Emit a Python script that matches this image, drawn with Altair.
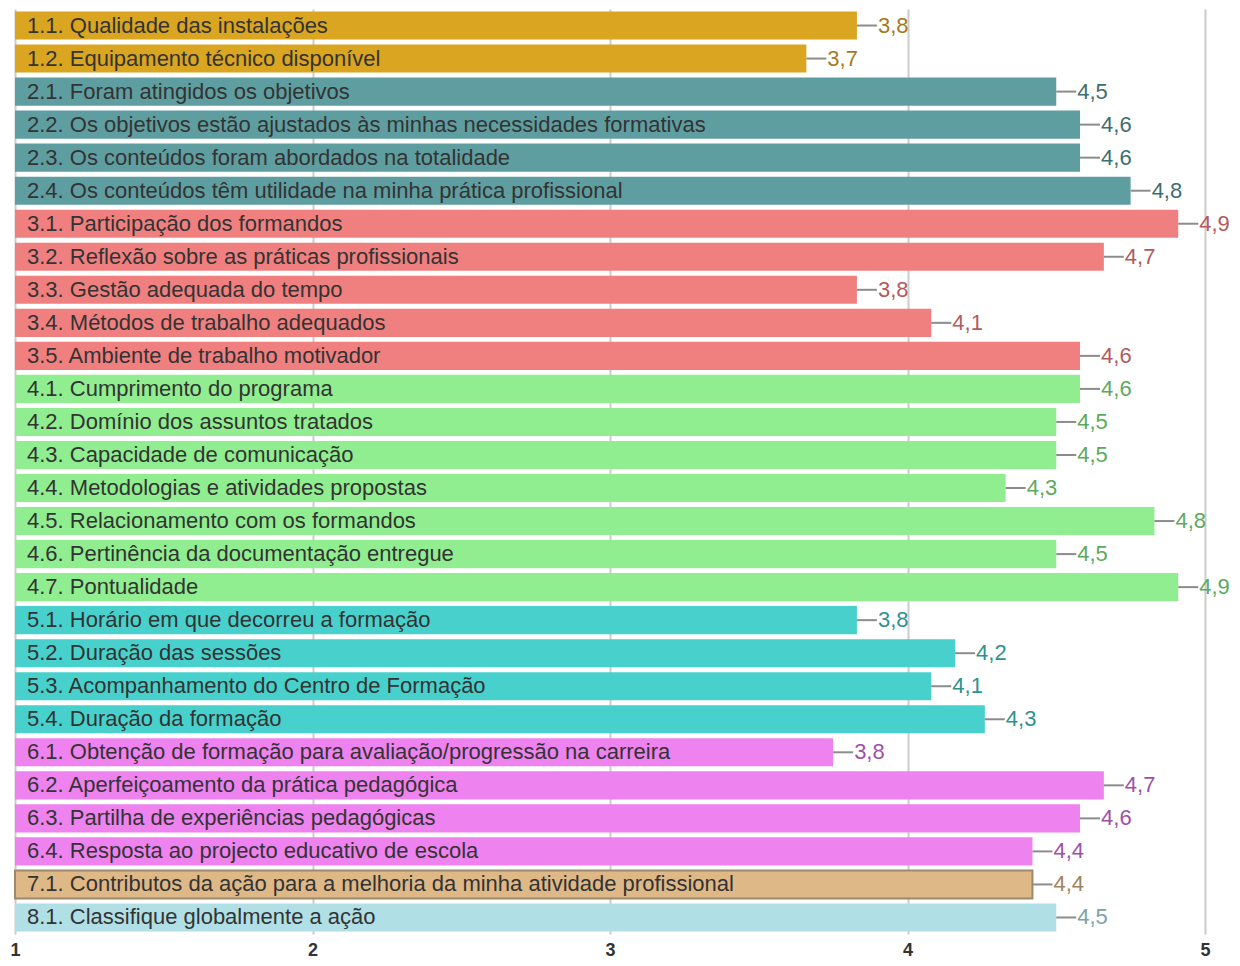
import altair as alt
import pandas as pd

categories = [
    "1.1. Qualidade das instalações",
    "1.2. Equipamento técnico disponível",
    "2.1. Foram atingidos os objetivos",
    "2.2. Os objetivos estão ajustados às minhas necessidades formativas",
    "2.3. Os conteúdos foram abordados na totalidade",
    "2.4. Os conteúdos têm utilidade na minha prática profissional",
    "3.1. Participação dos formandos",
    "3.2. Reflexão sobre as práticas profissionais",
    "3.3. Gestão adequada do tempo",
    "3.4. Métodos de trabalho adequados",
    "3.5. Ambiente de trabalho motivador",
    "4.1. Cumprimento do programa",
    "4.2. Domínio dos assuntos tratados",
    "4.3. Capacidade de comunicação",
    "4.4. Metodologias e atividades propostas",
    "4.5. Relacionamento com os formandos",
    "4.6. Pertinência da documentação entregue",
    "4.7. Pontualidade",
    "5.1. Horário em que decorreu a formação",
    "5.2. Duração das sessões",
    "5.3. Acompanhamento do Centro de Formação",
    "5.4. Duração da formação",
    "6.1. Obtenção de formação para avaliação/progressão na carreira",
    "6.2. Aperfeiçoamento da prática pedagógica",
    "6.3. Partilha de experiências pedagógicas",
    "6.4. Resposta ao projecto educativo de escola",
    "7.1. Contributos da ação para a melhoria da minha atividade profissional",
    "8.1. Classifique globalmente a ação",
]
values = [
    3.83, 3.66,
    4.50, 4.58, 4.58, 4.75,
    4.91, 4.66, 3.83, 4.08, 4.58,
    4.58, 4.50, 4.50, 4.33, 4.83, 4.50, 4.91,
    3.83, 4.16, 4.08, 4.26,
    3.75, 4.66, 4.58, 4.42,
    4.42,
    4.50,
]
groups = [c.split(".")[0] for c in categories]

group_domain = ["1", "2", "3", "4", "5", "6", "7", "8"]
bar_colors = ["#DAA520", "#5F9EA0", "#F08080", "#90EE90", "#48D1CC", "#EE82EE", "#DEB887", "#B0E0E6"]
label_colors = ["#A57A1C", "#3E6E70", "#B35A5A", "#5DAA5D", "#2E9290", "#A050A8", "#A08560", "#7BA3A8"]

df = pd.DataFrame({"cat": categories, "v": values, "grp": groups})

FONT = "Liberation Sans"

y_enc = alt.Y("cat:N", sort=None, axis=None,
              scale=alt.Scale(paddingInner=0.15, paddingOuter=0.075))
x_enc = alt.X("v:Q", scale=alt.Scale(domain=[1, 5], nice=False, zero=False),
              axis=alt.Axis(values=[1, 2, 3, 4, 5], format="d", title=None,
                            domain=False, ticks=False, labelPadding=7,
                            labelFlush=False,
                            labelFontSize=18, labelFontWeight="bold",
                            labelColor="#333333", labelFont=FONT,
                            grid=True, gridColor="#cccccc", gridWidth=2))

base = alt.Chart(df)

bars = base.mark_bar().encode(
    x=x_enc,
    x2=alt.datum(1),
    y=y_enc,
    color=alt.Color("grp:N", scale=alt.Scale(domain=group_domain, range=bar_colors), legend=None),
    stroke=alt.condition(alt.datum.grp == "7", alt.value("#9c8a6c"), alt.value(None)),
    strokeWidth=alt.condition(alt.datum.grp == "7", alt.value(2), alt.value(0)),
)

leaders = base.mark_rule(color="#8c8c8c", strokeWidth=2, x2Offset=20).encode(
    x="v:Q", x2="v:Q", y=alt.Y("cat:N", sort=None, axis=None, bandPosition=0.5)
)

cat_text = base.mark_text(align="left", baseline="middle", fontSize=22, font=FONT,
                          color="#333333").encode(
    x=alt.value(12), y=alt.Y("cat:N", sort=None, axis=None), text="cat:N"
)

val_text = base.mark_text(align="left", baseline="middle", fontSize=22, font=FONT,
                          dx=21).transform_calculate(
    lab="replace(format(datum.v, '.1f'), '.', ',')"
).encode(
    x="v:Q", y=alt.Y("cat:N", sort=None, axis=None), text="lab:N",
    color=alt.Color("grp:N", scale=alt.Scale(domain=group_domain, range=label_colors), legend=None),
)

chart = alt.layer(bars, leaders, cat_text, val_text).resolve_scale(
    color="independent"
).properties(
    width=1190, height=925,
    autosize=alt.AutoSizeParams(type="none"),
    padding={"left": 7, "top": 1, "right": 27, "bottom": 24},
).configure_view(stroke=None)

chart.save("out.html", embed_options={"renderer": "svg", "actions": False})
